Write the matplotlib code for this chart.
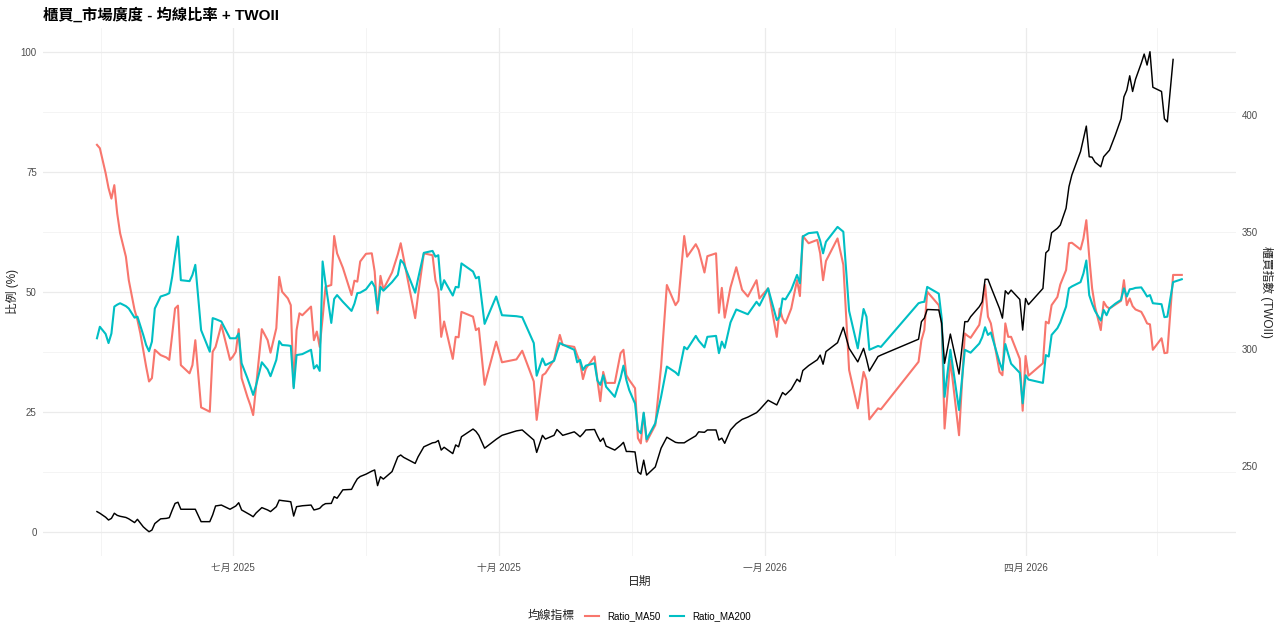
import numpy as np
import pandas as pd
import matplotlib
matplotlib.use("Agg")
import matplotlib.pyplot as plt
import matplotlib.dates as mdates

# fonts: latin first, CJK fallback
plt.rcParams['font.family'] = ['Liberation Sans', 'Noto Sans CJK TC']

# Data
dates = [
    "2025-05-15", "2025-05-16", "2025-05-18", "2025-05-19", "2025-05-20", "2025-05-21", "2025-05-22", "2025-05-23", "2025-05-25", "2025-05-26",
    "2025-05-28", "2025-05-29", "2025-05-30", "2025-05-31", "2025-06-01", "2025-06-02", "2025-06-03", "2025-06-04", "2025-06-06", "2025-06-08",
    "2025-06-09", "2025-06-10", "2025-06-11", "2025-06-12", "2025-06-13", "2025-06-16", "2025-06-17", "2025-06-18", "2025-06-20", "2025-06-23",
    "2025-06-24", "2025-06-25", "2025-06-27", "2025-06-30", "2025-07-01", "2025-07-02", "2025-07-03", "2025-07-04", "2025-07-06", "2025-07-07",
    "2025-07-08", "2025-07-09", "2025-07-11", "2025-07-13", "2025-07-14", "2025-07-16", "2025-07-17", "2025-07-18", "2025-07-20", "2025-07-21",
    "2025-07-22", "2025-07-23", "2025-07-24", "2025-07-25", "2025-07-28", "2025-07-29", "2025-07-30", "2025-07-31", "2025-08-01", "2025-08-02",
    "2025-08-04", "2025-08-05", "2025-08-06", "2025-08-08", "2025-08-11", "2025-08-12", "2025-08-13", "2025-08-14", "2025-08-16", "2025-08-18",
    "2025-08-19", "2025-08-20", "2025-08-21", "2025-08-22", "2025-08-25", "2025-08-27", "2025-08-28", "2025-08-29", "2025-09-02", "2025-09-03",
    "2025-09-05", "2025-09-08", "2025-09-09", "2025-09-10", "2025-09-11", "2025-09-12", "2025-09-15", "2025-09-16", "2025-09-17", "2025-09-18",
    "2025-09-22", "2025-09-23", "2025-09-24", "2025-09-26", "2025-09-30", "2025-10-02", "2025-10-07", "2025-10-09", "2025-10-13", "2025-10-14",
    "2025-10-16", "2025-10-17", "2025-10-20", "2025-10-21", "2025-10-22", "2025-10-23", "2025-10-27", "2025-10-28", "2025-10-29", "2025-10-30",
    "2025-10-31", "2025-11-03", "2025-11-04", "2025-11-05", "2025-11-06", "2025-11-07", "2025-11-10", "2025-11-12", "2025-11-13", "2025-11-14",
    "2025-11-15", "2025-11-17", "2025-11-18", "2025-11-19", "2025-11-20", "2025-11-21", "2025-11-24", "2025-11-26", "2025-11-28", "2025-12-01",
    "2025-12-02", "2025-12-04", "2025-12-05", "2025-12-08", "2025-12-09", "2025-12-11", "2025-12-12", "2025-12-15", "2025-12-16", "2025-12-17",
    "2025-12-18", "2025-12-20", "2025-12-22", "2025-12-24", "2025-12-26", "2025-12-29", "2025-12-30", "2026-01-02", "2026-01-05", "2026-01-06",
    "2026-01-07", "2026-01-08", "2026-01-10", "2026-01-12", "2026-01-13", "2026-01-14", "2026-01-16", "2026-01-19", "2026-01-20", "2026-01-21",
    "2026-01-22", "2026-01-26", "2026-01-28", "2026-01-30", "2026-02-02", "2026-02-04", "2026-02-05", "2026-02-06", "2026-02-09", "2026-02-10",
    "2026-02-23", "2026-02-24", "2026-02-25", "2026-02-26", "2026-03-02", "2026-03-03", "2026-03-04", "2026-03-06", "2026-03-09", "2026-03-11",
    "2026-03-12", "2026-03-13", "2026-03-16", "2026-03-17", "2026-03-18", "2026-03-19", "2026-03-20", "2026-03-23", "2026-03-24", "2026-03-25",
    "2026-03-26", "2026-03-27", "2026-03-30", "2026-03-31", "2026-04-01", "2026-04-02", "2026-04-07", "2026-04-08", "2026-04-09", "2026-04-10",
    "2026-04-12", "2026-04-13", "2026-04-15", "2026-04-16", "2026-04-17", "2026-04-20", "2026-04-21", "2026-04-22", "2026-04-23", "2026-04-24",
    "2026-04-25", "2026-04-27", "2026-04-28", "2026-04-29", "2026-04-30", "2026-05-02", "2026-05-04", "2026-05-05", "2026-05-06", "2026-05-07",
    "2026-05-08", "2026-05-09", "2026-05-11", "2026-05-12", "2026-05-13", "2026-05-14", "2026-05-15", "2026-05-18", "2026-05-19", "2026-05-20",
    "2026-05-22", "2026-05-25",
]

ratio_ma50 = [
    80.6, 79.9, 74.7, 71.6, 69.4, 72.2, 66.3, 62.2, 57.3, 52.4,
    46.2, 44.1, 41.3, 37.9, 34.4, 31.3, 32.0, 37.9, 36.8, 36.3,
    35.8, 41.0, 46.5, 47.1, 34.7, 33.0, 34.7, 39.9, 25.9, 25.0,
    37.5, 38.5, 43.1, 35.8, 36.5, 37.5, 42.2, 32.0, 28.1, 26.4,
    24.3, 30.2, 42.2, 39.9, 37.3, 42.4, 53.1, 50.0, 48.6, 47.2,
    30.2, 42.0, 45.5, 45.1, 46.9, 39.9, 41.7, 38.5, 44.5, 51.0,
    51.4, 61.6, 58.0, 55.0, 49.3, 52.3, 52.1, 56.3, 57.9, 58.0,
    54.2, 45.5, 53.3, 50.5, 54.0, 57.8, 60.1, 57.0, 44.5, 49.3,
    58.0, 57.6, 52.4, 50.4, 40.6, 43.8, 36.0, 40.6, 40.5, 45.8,
    44.8, 42.0, 42.4, 30.6, 39.6, 35.3, 35.9, 37.7, 31.3, 23.3,
    32.6, 33.0, 35.8, 38.5, 41.0, 38.9, 38.5, 36.8, 35.3, 31.8,
    34.0, 36.5, 31.6, 27.2, 33.3, 31.0, 31.0, 37.2, 37.9, 32.6,
    31.6, 29.9, 19.5, 18.4, 24.7, 18.75, 22.2, 34.4, 51.4, 47.2,
    48.1, 61.6, 57.3, 59.9, 58.7, 54.0, 57.4, 58.0, 45.6, 50.8,
    44.6, 50.9, 55.1, 50.4, 49.0, 52.4, 48.6, 50.7, 40.6, 46.5,
    44.4, 43.4, 46.5, 52.4, 49.1, 61.6, 60.1, 60.8, 58.0, 52.4,
    56.4, 61.1, 55.6, 33.7, 25.7, 33.3, 31.6, 23.4, 25.7, 25.5,
    35.4, 39.9, 42.0, 50.0, 47.2, 43.75, 21.5, 35.8, 20.1, 41.3,
    40.8, 40.4, 43.1, 46.8, 51.4, 44.8, 43.4, 33.3, 32.6, 43.4,
    40.6, 40.6, 36.0, 25.2, 36.6, 32.5, 35.1, 43.75, 43.4, 47.2,
    48.9, 51.5, 54.5, 60.1, 60.2, 58.8, 61.1, 64.9, 57.3, 50.7,
    46.9, 42.0, 47.9, 46.9, 46.5, 47.3, 48.1, 52.4, 47.2, 48.6,
    47.0, 46.3, 45.8, 44.7, 43.4, 43.2, 37.9, 40.3, 37.2, 37.3,
    53.5, 53.5,
]

ratio_ma200 = [
    40.3, 42.7, 41.2, 39.3, 41.3, 46.9, 47.3, 47.6, 47.0, 46.5,
    44.6, 44.8, 42.9, 41.0, 38.9, 37.6, 39.6, 46.5, 49.0, 49.4,
    49.7, 53.1, 57.5, 61.5, 52.4, 52.2, 53.5, 55.6, 42.0, 37.5,
    44.5, 44.3, 43.8, 40.3, 40.3, 40.3, 41.3, 35.1, 32.0, 30.3,
    28.5, 30.5, 35.3, 33.8, 32.4, 35.8, 39.7, 38.9, 38.8, 38.7,
    29.9, 36.8, 36.9, 37.0, 37.9, 34.0, 34.7, 33.5, 56.3, 51.8,
    43.5, 48.5, 49.3, 47.9, 46.0, 47.5, 49.7, 49.8, 50.5, 52.1,
    51.0, 46.2, 51.0, 50.2, 52.0, 53.5, 56.6, 55.9, 49.8, 52.7,
    58.1, 58.5, 57.3, 57.6, 50.4, 52.4, 49.2, 51.0, 50.9, 55.9,
    54.2, 52.8, 53.1, 43.3, 49.0, 45.1, 44.9, 44.7, 39.3, 32.5,
    36.1, 34.7, 35.6, 37.5, 39.3, 39.0, 37.9, 35.3, 35.8, 33.7,
    34.6, 35.1, 31.5, 30.6, 32.6, 30.2, 28.1, 32.0, 34.6, 31.6,
    29.5, 26.7, 21.2, 20.5, 24.8, 19.25, 22.6, 28.1, 34.4, 33.2,
    32.6, 38.5, 38.0, 40.8, 39.8, 38.4, 40.6, 40.8, 37.2, 39.6,
    38.3, 43.6, 46.3, 45.8, 45.3, 47.9, 47.1, 50.7, 44.1, 44.8,
    48.6, 48.4, 50.4, 53.5, 51.75, 61.5, 62.2, 62.4, 60.6, 58.0,
    60.4, 63.5, 62.5, 46.0, 38.2, 46.4, 44.8, 37.9, 38.7, 38.5,
    47.6, 47.8, 47.9, 51.0, 49.6, 44.5, 28.1, 37.9, 25.35, 37.9,
    37.6, 37.3, 39.2, 40.5, 42.6, 41.0, 41.5, 35.3, 33.7, 39.1,
    37.0, 35.0, 33.1, 26.75, 32.6, 31.7, 31.0, 36.8, 36.5, 41.0,
    42.4, 43.6, 46.9, 50.7, 51.1, 52.0, 53.8, 56.5, 49.3, 47.5,
    46.0, 44.0, 46.2, 45.1, 46.5, 47.5, 48.3, 50.7, 49.0, 50.5,
    50.6, 50.8, 50.9, 50.0, 49.0, 49.3, 47.6, 47.4, 44.7, 44.8,
    52.0, 52.6,
]

# TWOII index level (last day missing)
twoii = [
    230.5, 229.8, 228.1, 226.9, 227.6, 229.8, 228.9, 228.5, 228.0, 227.4,
    225.8, 227.2, 225.6, 224.0, 222.9, 221.9, 222.6, 225.4, 227.4, 227.6,
    227.9, 231.1, 234.0, 234.5, 231.5, 231.5, 231.5, 231.5, 226.2, 226.2,
    229.1, 232.9, 233.3, 231.5, 232.2, 232.9, 234.3, 231.2, 229.8, 229.1,
    228.3, 229.9, 232.2, 231.2, 230.5, 232.6, 235.4, 235.2, 234.9, 234.7,
    228.6, 232.6, 232.8, 233.0, 233.3, 231.2, 231.5, 231.9, 233.2, 233.9,
    234.0, 236.9, 236.2, 239.8, 240.0, 242.4, 244.5, 245.5, 246.5, 247.8,
    248.3, 241.6, 245.4, 244.4, 247.6, 253.9, 254.7, 253.7, 251.1, 253.9,
    258.2, 259.9, 260.1, 260.9, 256.8, 258.0, 255.3, 259.0, 258.2, 262.5,
    265.8, 264.8, 263.1, 257.6, 261.4, 263.1, 265.0, 265.4, 261.1, 255.8,
    263.1, 261.5, 263.1, 265.6, 264.4, 263.1, 264.6, 263.6, 262.5, 263.8,
    265.4, 265.6, 262.9, 260.5, 261.9, 258.5, 256.8, 258.8, 260.1, 256.2,
    256.2, 256.0, 247.5, 246.5, 252.5, 246.1, 249.6, 257.6, 262.3, 260.1,
    259.9, 259.9, 260.7, 262.9, 264.6, 264.4, 265.4, 265.4, 261.1, 261.9,
    259.7, 265.4, 268.1, 269.9, 270.9, 272.8, 274.0, 278.1, 276.1, 278.7,
    281.4, 280.4, 282.8, 287.1, 286.0, 290.8, 292.9, 295.4, 297.4, 293.5,
    298.9, 302.7, 309.3, 300.3, 294.5, 300.3, 295.8, 290.6, 296.8, 297.4,
    304.2, 311.7, 313.2, 316.9, 316.7, 311.0, 293.9, 306.4, 289.3, 311.7,
    311.7, 313.8, 318.1, 320.2, 329.8, 329.8, 326.6, 317.3, 313.2, 324.9,
    323.5, 325.2, 321.2, 308.1, 321.6, 319.0, 325.9, 341.1, 342.3, 349.7,
    351.6, 353.0, 360.2, 369.4, 374.4, 384.4, 389.8, 395.3, 382.2, 382.0,
    379.9, 377.9, 382.2, 383.6, 385.0, 391.4, 398.4, 407.8, 410.7, 416.8,
    410.1, 415.3, 422.2, 426.1, 421.4, 427.1, 411.9, 410.1, 398.4, 397.1,
    423.8, np.nan,
]

series_names = ["Ratio_MA50", "Ratio_MA200"]
series_colors = ["#F8766D", "#00BFC4"]

month_ticks = ["2025-07-01", "2025-10-01", "2026-01-01", "2026-04-01"]
month_labels = ["七月 2025", "十月 2025", "一月 2026", "四月 2026"]
left_ticks = [0, 25, 50, 75, 100]
right_ticks = [250, 300, 350, 400]

dates = pd.to_datetime(dates)
twoii = np.array(twoii, dtype=float)

# TWOII is rescaled onto the 0-100 ratio scale
t_min, t_max = np.nanmin(twoii), np.nanmax(twoii)


def to_ratio(v):
    return (v - t_min) / (t_max - t_min) * 100


def to_twoii(r):
    return t_min + r * (t_max - t_min) / 100


fig = plt.figure(figsize=(12.79, 6.37), dpi=100)
ax = fig.add_axes([0.0334, 0.1276, 0.9330, 0.8289])

lines = []
for vals, name, col in zip([ratio_ma50, ratio_ma200], series_names, series_colors):
    ln, = ax.plot(dates, vals, color=col, lw=1.5, label=name, solid_joinstyle='round')
    lines.append(ln)
ax.plot(dates, to_ratio(twoii), color='black', lw=1.05, solid_joinstyle='round')

ax.margins(x=0.05, y=0.05)

# grid like ggplot theme_minimal
major_x = pd.to_datetime(month_ticks)
edges = mdates.date2num(pd.to_datetime(["2025-04-01"] + month_ticks + ["2026-07-01"]))
ax.set_xticks(major_x)
ax.set_xticklabels(month_labels)
ax.set_xticks((edges[:-1] + edges[1:]) / 2, minor=True)
ax.set_yticks(left_ticks)
ax.set_yticks([12.5, 37.5, 62.5, 87.5], minor=True)
ax.grid(which='major', color='#EBEBEB', lw=0.9)
ax.grid(which='minor', color='#F3F3F3', lw=0.6)
ax.set_axisbelow(True)
for s in ax.spines.values():
    s.set_visible(False)
ax.tick_params(which='both', length=0, labelsize=7, labelcolor='#4D4D4D')
ax.tick_params(axis='y', pad=4.3)
ax.tick_params(axis='x', pad=5)

sec = ax.secondary_yaxis('right', functions=(to_twoii, to_ratio))
sec.set_yticks(right_ticks)
sec.tick_params(length=0, pad=4, labelsize=7, labelcolor='#4D4D4D')
for s in sec.spines.values():
    s.set_visible(False)

fig.text(0.0334, 1 - 15 / 637, "櫃買_市場廣度 - 均線比率 + TWOII", fontsize=11,
         fontweight='bold', ha='left', va='center')
fig.text(12.7 / 1279, 1 - 291.7 / 637, "比例 (%)", rotation=90, fontsize=8.5,
         ha='center', va='center', color='#222222')
fig.text(1266 / 1279, 1 - 291.7 / 637, "櫃買指數 (TWOII)", rotation=270, fontsize=8.5,
         ha='center', va='center', color='#222222')
fig.text(639.4 / 1279, 1 - 581.7 / 637, "日期", fontsize=8.5, ha='center', va='center',
         color='#222222')

# legend at bottom, title to the left of the keys
fig.text(575 / 1279, 1 - 616 / 637, "均線指標", fontsize=8.5, ha='right', va='center',
         color='#222222')
fig.legend(handles=lines, labels=series_names, loc='center left',
           bbox_to_anchor=(584.5 / 1279, 1 - 616 / 637), ncol=2, frameon=False,
           fontsize=7, handlelength=1.5, handletextpad=0.8, columnspacing=1.0,
           borderpad=0, borderaxespad=0)

fig.savefig("out.png", dpi=100)
